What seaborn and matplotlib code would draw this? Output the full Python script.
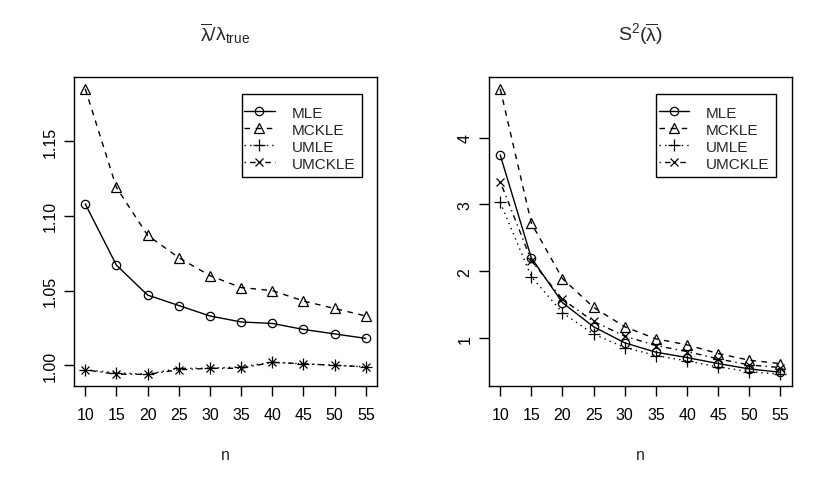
import matplotlib
matplotlib.use("Agg")
import matplotlib.pyplot as plt
import matplotlib.patches as mpatches
import seaborn as sns
import numpy as np

# ---- data ----
n = [10, 15, 20, 25, 30, 35, 40, 45, 50, 55]
labels = ["MLE", "MCKLE", "UMLE", "UMCKLE"]

ratio_MLE = [1.108, 1.067, 1.047, 1.040, 1.033, 1.029, 1.028, 1.024, 1.021, 1.018]
ratio_MCKLE = [1.185, 1.119, 1.087, 1.072, 1.060, 1.052, 1.050, 1.043, 1.038, 1.033]
ratio_UMLE = [0.997, 0.995, 0.994, 0.998, 0.998, 0.999, 1.002, 1.001, 1.000, 0.999]
ratio_UMCKLE = [0.997, 0.994, 0.994, 0.997, 0.998, 0.998, 1.002, 1.001, 1.000, 0.999]

var_MLE = [3.74, 2.20, 1.53, 1.17, 0.93, 0.79, 0.71, 0.62, 0.54, 0.49]
var_MCKLE = [4.73, 2.72, 1.89, 1.46, 1.17, 0.99, 0.90, 0.77, 0.67, 0.62]
var_UMLE = [3.03, 1.92, 1.38, 1.06, 0.86, 0.74, 0.66, 0.57, 0.50, 0.46]
var_UMCKLE = [3.34, 2.16, 1.58, 1.25, 1.03, 0.89, 0.80, 0.69, 0.60, 0.56]

titles = [r"$\overline{\lambda}/\lambda_{\mathrm{true}}$", r"$\mathrm{S}^2(\overline{\lambda})$"]
xlabel = "n"
yticks_left = [1.00, 1.05, 1.10, 1.15]
yticklabels_left = ["1.00", "1.05", "1.10", "1.15"]
yticks_right = [1, 2, 3, 4]
yticklabels_right = ["1", "2", "3", "4"]

# ---- style ----
sns.set_theme(style="white")
plt.rcParams["font.family"] = ["Liberation Sans", "DejaVu Sans"]
plt.rcParams["mathtext.fontset"] = "custom"
plt.rcParams["mathtext.rm"] = "Liberation Sans"
plt.rcParams["mathtext.it"] = "Liberation Sans"
plt.rcParams["mathtext.default"] = "regular"

FS = 11.5
LFS = 11
styles = [
    dict(marker="o", linestyle="-", markersize=6),
    dict(marker="^", linestyle=(0, (4, 4)), markersize=7),
    dict(marker="+", linestyle=(0, (1, 3)), markersize=9),
    dict(marker="x", linestyle=(0, (1, 3, 4, 3)), markersize=6),
]

W, H = 830, 485
fig = plt.figure(figsize=(W / 100, H / 100), dpi=100)

panels = [
    dict(left=74, right=377, series=[ratio_MLE, ratio_MCKLE, ratio_UMLE, ratio_UMCKLE],
         yticks=yticks_left, ytl=yticklabels_left),
    dict(left=489, right=791.7, series=[var_MLE, var_MCKLE, var_UMLE, var_UMCKLE],
         yticks=yticks_right, ytl=yticklabels_right),
]
top, bottom = 78.3, 386.7
LEG_TOP, LEG_H = 95.0, 83.3
PAD_L, PAD_R = 2.5, 6.7

legs = []
for i, p in enumerate(panels):
    ax = fig.add_axes([p["left"] / W, 1 - bottom / H, (p["right"] - p["left"]) / W, (bottom - top) / H])
    for vals, lab, st in zip(p["series"], labels, styles):
        sns.lineplot(x=n, y=vals, ax=ax, color="black", linewidth=1.0,
                     marker=st["marker"], linestyle=st["linestyle"],
                     markersize=st["markersize"], markerfacecolor="none",
                     markeredgecolor="black", markeredgewidth=0.9,
                     label=lab, legend=False)
    allv = np.concatenate([np.array(s) for s in p["series"]])
    lo, hi = allv.min(), allv.max()
    pad = 0.04 * (hi - lo)
    ax.set_ylim(lo - pad, hi + pad)
    ax.set_xlim(10 - 0.04 * 45, 55 + 0.04 * 45)
    ax.set_xticks(n)
    ax.set_xticklabels([str(v) for v in n])
    ax.set_yticks(p["yticks"])
    ax.set_yticklabels(p["ytl"], rotation=90, va="center")
    for s in ax.spines.values():
        s.set_color("black")
        s.set_linewidth(1.0)
    ax.tick_params(axis="both", which="both", direction="out", length=7, width=1.0,
                   color="black", labelsize=FS, labelcolor="black")
    ax.tick_params(axis="x", pad=8, bottom=True)
    ax.tick_params(axis="y", pad=5, left=True)
    ax.set_xlabel(xlabel, fontsize=FS, labelpad=18)
    ax.set_ylabel("")
    ax.set_title(titles[i], fontsize=14, pad=27)
    leg = ax.legend(loc="upper right", borderaxespad=0, fontsize=LFS, frameon=False,
                    handlelength=2.0, handletextpad=1.1, labelspacing=0.2,
                    borderpad=0.0, numpoints=1)
    leg.set_zorder(6)
    legs.append((ax, leg, p))

fig.canvas.draw()
r = fig.canvas.get_renderer()
for ax, leg, p in legs:
    bb = leg.get_window_extent(r)
    w, h = bb.width, bb.height
    right_box = p["right"] - 15.3
    pv = (LEG_H - h) / 2
    xr = right_box - PAD_R
    yt = LEG_TOP + pv + 2.5
    leg.set_bbox_to_anchor((xr / W, 1 - yt / H), transform=fig.transFigure)
    box_w = w + PAD_L + PAD_R
    rect = mpatches.Rectangle(((right_box - box_w) / W, 1 - (LEG_TOP + LEG_H) / H),
                              box_w / W, LEG_H / H, transform=fig.transFigure,
                              facecolor="white", edgecolor="black", linewidth=1.0,
                              zorder=5, clip_on=False)
    ax.add_patch(rect)

fig.savefig("out.png", dpi=100, facecolor="white")
